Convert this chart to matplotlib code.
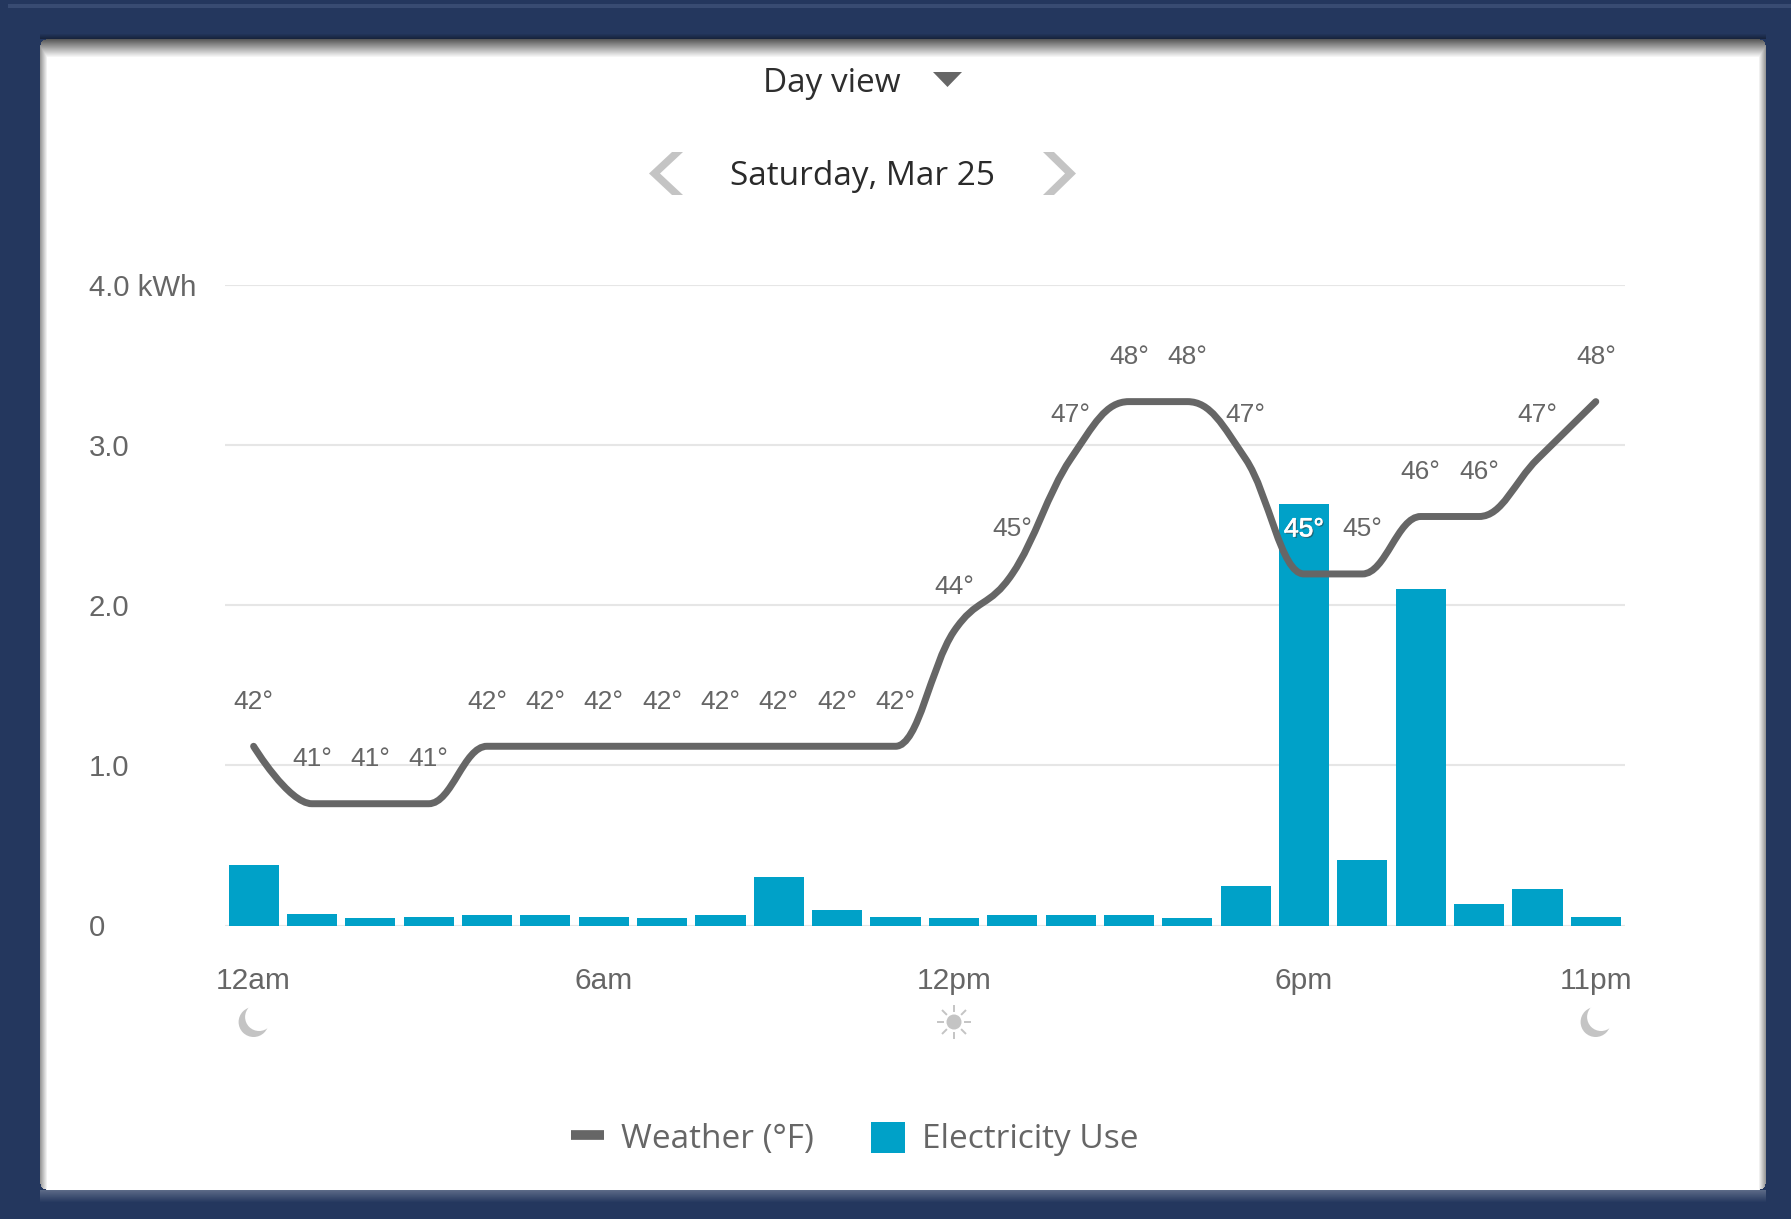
import numpy as np
import matplotlib
matplotlib.use('Agg')
import matplotlib.pyplot as plt
import matplotlib.patheffects as pe
from matplotlib.lines import Line2D
from matplotlib.patches import Patch, Circle, Polygon, PathPatch
from matplotlib.path import Path

hours = np.arange(24)
usage = [0.38, 0.07, 0.045, 0.055, 0.065, 0.065, 0.055, 0.045, 0.065, 0.30, 0.095, 0.055,
         0.045, 0.065, 0.065, 0.065, 0.045, 0.245, 2.63, 0.41, 2.10, 0.135, 0.225, 0.055]
temps = [42, 41, 41, 41, 42, 42, 42, 42, 42, 42, 42, 42,
         44, 45, 47, 48, 48, 47, 45, 45, 46, 46, 47, 48]
y_ticks = [0, 1, 2, 3, 4]
y_labels = ['0', '1.0', '2.0', '3.0', '4.0 kWh']
x_ticks = [0, 6, 12, 18, 23]
x_labels = ['12am', '6am', '12pm', '6pm', '11pm']
highlight = 18

W, H = 1791, 1219
GREY = '#666666'
BLUE = '#00a1c8'
ICON = '#c4c4c4'
NAVY = np.array([36, 55, 94]) / 255
OPEN = ['Open Sans', 'DejaVu Sans']

plt.rcParams['font.family'] = ['Liberation Sans', 'DejaVu Sans']


def spline_path(xs, ys):
    # same control points as a highcharts spline
    n = len(xs)
    left = [None] * n
    right = [None] * n
    for i in range(n):
        x, y = xs[i], ys[i]
        if i == 0 or i == n - 1:
            left[i] = right[i] = (x, y)
            continue
        lx, ly = (1.5 * x + xs[i - 1]) / 2.5, (1.5 * y + ys[i - 1]) / 2.5
        rx, ry = (1.5 * x + xs[i + 1]) / 2.5, (1.5 * y + ys[i + 1]) / 2.5
        c = (ry - ly) * (rx - x) / (rx - lx) + y - ry
        ly += c
        ry += c
        if ly > ys[i - 1] and ly > y:
            ly = max(ys[i - 1], y)
            ry = 2 * y - ly
        elif ly < ys[i - 1] and ly < y:
            ly = min(ys[i - 1], y)
            ry = 2 * y - ly
        if ry > ys[i + 1] and ry > y:
            ry = max(ys[i + 1], y)
            ly = 2 * y - ry
        elif ry < ys[i + 1] and ry < y:
            ry = min(ys[i + 1], y)
            ly = 2 * y - ry
        left[i] = (lx, ly)
        right[i] = (rx, ry)
    verts = [(xs[0], ys[0])]
    codes = [Path.MOVETO]
    for i in range(1, n):
        verts += [right[i - 1], left[i], (xs[i], ys[i])]
        codes += [Path.CURVE4] * 3
    return Path(verts, codes)


def make_background():
    # navy frame, white card with rounded corners, soft inner shadow
    xx, yy = np.meshgrid(np.arange(W), np.arange(H))
    img = np.ones((H, W, 3)) * NAVY
    top, bottom, l, r = 39, 1190, 40, 1766
    rad = 6
    dx = np.maximum(np.maximum(l + rad - xx, xx - (r - 1 - rad)), 0)
    dy = np.maximum(np.maximum(top + rad - yy, yy - (bottom - 1 - rad)), 0)
    card = (dx ** 2 + dy ** 2) <= rad ** 2

    # band just over the card is darker, the one under it is lighter
    d = np.clip((top - yy) / 6, 0, 1)
    band = (yy < top) & (yy >= top - 6) & (xx >= l) & (xx < r)
    img[band] = NAVY * (0.6 + 0.4 * d[band][:, None])
    d = np.clip((yy - bottom) / 12, 0, 1)
    band = (yy >= bottom) & (yy < bottom + 12) & (xx >= l) & (xx < r)
    img[band] = NAVY + (1 - d[band][:, None]) * 0.25 * (1 - NAVY)

    shade = 0.35 + 0.65 * np.clip((yy - top) / 18, 0, 1)
    shade = np.minimum(shade, 0.6 + 0.4 * np.clip((xx - l) / 7, 0, 1))
    shade = np.minimum(shade, 0.6 + 0.4 * np.clip((r - 1 - xx) / 7, 0, 1))
    img[card] = shade[card][:, None]

    img[4:8, 8:] = NAVY + 0.08
    return np.clip(img, 0, 1)


fig = plt.figure(figsize=(W / 100, H / 100), dpi=100)

# pixel space layer for the page furniture
bg = fig.add_axes([0, 0, 1, 1], zorder=0)
bg.axis('off')
bg.imshow(make_background(), extent=(0, W, H, 0), aspect='auto', interpolation='nearest')
bg.set_xlim(0, W)
bg.set_ylim(H, 0)

bg.text(832, 92, 'Day view', fontsize=24, family=OPEN, color='#2e2e2e', ha='center', va='baseline')
bg.add_patch(Polygon([(933, 72), (962, 72), (947.5, 87)], color=GREY, lw=0))
bg.text(862.5, 185, 'Saturday, Mar 25', fontsize=24, family=OPEN, color='#2a2a2a', ha='center', va='baseline')
bg.add_patch(Polygon([(649, 173.5), (672, 152), (683, 152), (660, 173.5), (683, 195), (672, 195)], color=ICON, lw=0))
bg.add_patch(Polygon([(1076, 173.5), (1054, 152), (1043, 152), (1065, 173.5), (1043, 195), (1054, 195)], color=ICON, lw=0))


def moon(cx, cy):
    bg.add_patch(Circle((cx, cy), 15, color=ICON, lw=0))
    bg.add_patch(Circle((cx + 5.5, cy - 5), 14, color='white', lw=0))


moon(253.6, 1022)
moon(1595.6, 1022)
bg.add_patch(Circle((954, 1022), 7.5, color=ICON, lw=0))
for a in np.arange(8) * np.pi / 4:
    bg.plot([954 + 11 * np.cos(a), 954 + 16 * np.cos(a)], [1022 + 11 * np.sin(a), 1022 + 16 * np.sin(a)],
            color=ICON, lw=1.4)

ax = fig.add_axes([225 / W, 1 - 925.5 / H, 1400 / W, 640.5 / H], zorder=1)
ax.patch.set_alpha(0)
ax.bar(hours, usage, width=0.86, color=BLUE, zorder=2)
ax.set_xlim(-0.49, 23.5)
ax.set_ylim(0, 4)
ax.set_yticks(y_ticks)
ax.set_yticklabels(y_labels, fontsize=21.2, color=GREY, ha='left')
ax.set_xticks(x_ticks)
ax.set_xticklabels(x_labels, fontsize=21.5, color=GREY)
ax.tick_params(axis='y', length=0, pad=98)
ax.tick_params(axis='x', length=0, pad=30)
ax.grid(axis='y', color='#e6e6e6', lw=1.5, zorder=0)
ax.set_axisbelow(True)
for s in ax.spines.values():
    s.set_visible(False)

temp_ax = ax.twinx()
temp_ax.set_ylim(38.88, 50.03)
temp_ax.axis('off')
temp_ax.add_patch(PathPatch(spline_path(hours, temps), fill=False, edgecolor=GREY, lw=5, capstyle='round', zorder=3))
for h, t in zip(hours, temps):
    col = 'white' if h == highlight else GREY
    txt = temp_ax.annotate(f'{t}°', (h, t), xytext=(0, 32), textcoords='offset points', fontsize=19,
                           color=col, ha='center', va='center', zorder=4)
    if h == highlight:
        txt.set_path_effects([pe.withStroke(linewidth=0.6, foreground='white'),
                              pe.withSimplePatchShadow(offset=(1, -1), shadow_rgbFace='#333333', alpha=0.5),
                              pe.Normal()])

handles = [Line2D([], [], color=GREY, lw=7, solid_capstyle='butt'), Patch(color=BLUE, lw=0)]
fig.legend(handles, ['Weather (°F)', 'Electricity Use'], loc='center', bbox_to_anchor=(854.5 / W, 1 - 1139 / H),
           ncol=2, frameon=False, handlelength=1, handleheight=1.05, handletextpad=0.51, columnspacing=1.71,
           prop={'family': OPEN, 'size': 24}, labelcolor=GREY).set_zorder(5)

fig.savefig('out.png', dpi=100)
